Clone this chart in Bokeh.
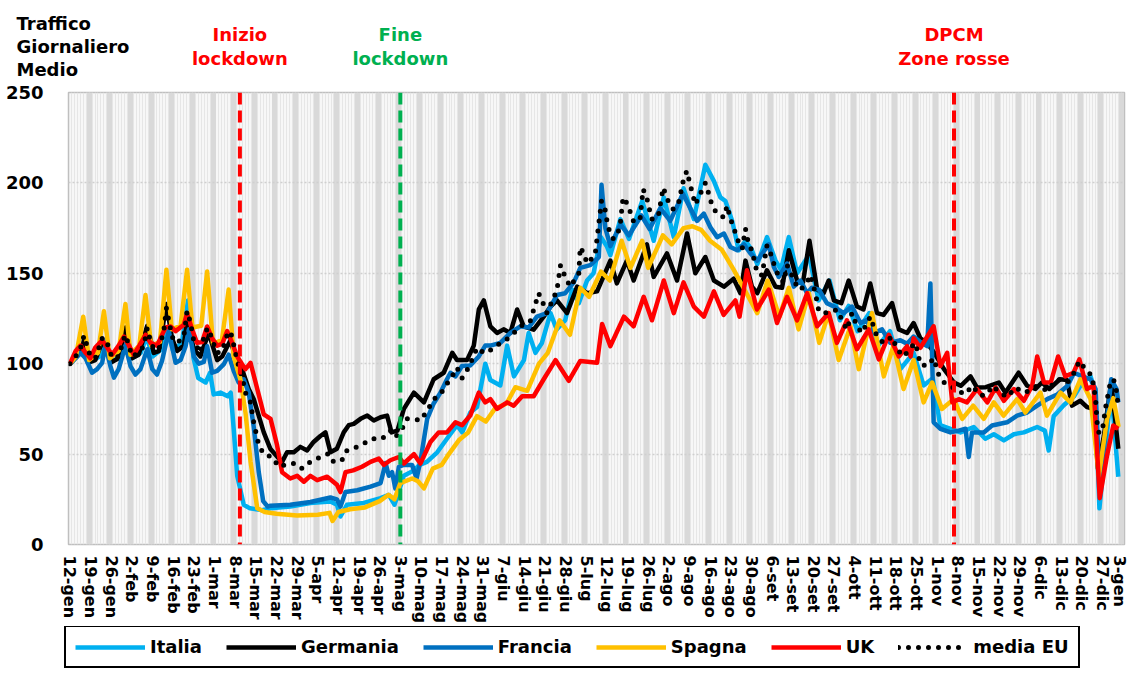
import math
from bokeh.plotting import figure
from bokeh.layouts import column
from bokeh.models import Range1d, FixedTicker, Span, Legend, LegendItem
from bokeh.core.properties import value
from bokeh.embed import file_html
from bokeh.resources import INLINE

# ---------------- data (x = days since 12-gen-2020, y = index, 12-gen = 100) -------------
TICK_LABELS = ["12-gen", "19-gen", "26-gen", "2-feb", "9-feb", "16-feb", "23-feb", "1-mar",
               "8-mar", "15-mar", "22-mar", "29-mar", "5-apr", "12-apr", "19-apr", "26-apr",
               "3-mag", "10-mag", "17-mag", "24-mag", "31-mag", "7-giu", "14-giu", "21-giu",
               "28-giu", "5-lug", "12-lug", "19-lug", "26-lug", "2-ago", "9-ago", "16-ago",
               "23-ago", "30-ago", "6-set", "13-set", "20-set", "27-set", "4-ott", "11-ott",
               "18-ott", "25-ott", "1-nov", "8-nov", "15-nov", "22-nov", "29-nov", "6-dic",
               "13-dic", "20-dic", "27-dic", "3-gen"]

ITALIA = [(0,100),(3,105),(5,111),(7,101),(10,104),(12,113),(14,101),(17,104),(19,113),(21,103),
          (24,106),(26,115),(28,104),(31,108),(33,118),(35,107),(38,112),(40,135),(41.9,103),(43.5,92),
          (46,89.6),(47.5,95),(48.7,83),(51,84),(53.5,82),(54.5,84),(55.5,64),(56.7,38),(58.9,22),(61,20),
          (65,19),(68,20),(74.7,21),(81.5,23),(88.3,23.8),(90.5,22),(91.7,15.5),(93.9,22),(99.6,23),
          (105.3,25.6),(108.1,27.4),(110,22),(113.2,38),(116.6,41),(118.5,44),(121,45.7),(124.5,51),
          (127.8,58.5),(131.2,66),(133,62),(135.7,73),(138,76),(140.8,100),(142.5,91),(145.9,88),
          (148.2,110),(150.5,93),(153.9,102),(155.5,117),(157.8,106),(160,111.5),(162.9,128),(165,119),
          (167.9,124),(170.2,141),(172.5,133.5),(175.3,146),(177.5,150),(180,170),(182,165),(183.2,160),
          (186.6,180),(189.5,169),(194,190),(197.9,168),(201.3,192),(204.7,170),(208,197),(211.5,180),
          (215.4,210),(218.3,201),(220.5,192),(222.2,190),(224.5,179),(226.7,162.7),(229,168),
          (231.2,162.7),(233,155),(236.3,170),(239.2,157),(241,152),(243.7,170),(246.5,150),(250.5,160),
          (253.8,135),(257.5,146),(261,124),(264,132),(267,118),(271,128),(274,110),(278,118),(281.5,97),
          (286,106),(289.4,88),(292.5,92),(295,66),(298.5,64),(301.9,62),(306.4,65),(310.3,58.5),
          (313.2,61),(316.6,57.6),(320,61),(323.4,62),(327.9,65),(330.5,63),(331.8,52),(333.5,71),
          (336.9,77),(340.4,82),(343.2,89.6),(346,93),(347.5,85),(349,20),(353,85),(355.4,37.5)]

GERMANIA = [(0,100),(2.4,104),(4.1,108),(4.7,113),(6.9,101),(8.6,102),(10.9,112),(13.2,106),(14.3,101),
            (16.5,103),(18.8,120),(21,103),(23.3,105),(26.2,121),(28.4,106),(30.1,107),(32.7,133),
            (34.6,114),(36.3,107),(38.6,110),(39.7,124),(42,108),(44.2,104),(47,117),(49.9,102),
            (51.6,104),(54.4,113),(56.7,100),(57.8,99.6),(60.6,86),(62.3,80.4),(65.7,62),(67.9,53),
            (70.8,47.5),(71.9,45.7),(73.6,51),(75.9,51),(78.1,54),(80.4,52),(82.6,56.7),(84.9,60),
            (86.6,62),(88.3,51),(90.5,53),(92.8,62),(94.5,66),(96.2,66.7),(98.5,69.5),(100.8,71.3),
            (103,68.6),(105.3,70.4),(107.5,71.3),(109,62),(111,63),(113.2,75),(116.6,84),(120,78.6),
            (123.3,91.4),(126.7,95),(129.6,106),(131.2,102),(134.6,102),(136.9,110),(138.6,130),
            (140.3,135),(142.5,120.7),(144.8,117),(147,119),(149.3,117),(151.6,130),(153.8,120.7),
            (157.2,118.8),(160.6,126),(162.9,131.6),(165.1,135),(168.5,128),(171.9,142.6),(175.3,139),
            (178.7,140),(183.2,157),(185.4,144.4),(188.8,157),(191.1,146),(195.6,166),(197.9,148),
            (202.4,161),(205.8,146),(209.2,172),(212,150),(215.4,159),(218.3,146),(221.7,142.6),
            (225,147),(227.3,139),(229,157),(231.2,142.6),(233,139),(236.3,151.7),(239.2,142.6),
            (241.4,142),(243.7,162.7),(246.5,146),(248.5,145),(250.7,168),(253.3,141),(255.5,139),
            (257.2,146),(259,135),(261.5,133.5),(264,146),(266.8,131.6),(269,130),(271.3,144.4),
            (273.6,128),(275.8,127),(278.7,133.5),(281,119),(283.8,117),(286,122.5),(288.3,114),
            (290.6,111.5),(293,106),(296.3,97),(299.7,89.6),(302,87.8),(305.3,93),(307.5,86.8),
            (310.5,87),(314.9,89.6),(317.1,84),(321.6,95),(324.5,87.8),(327.3,86),(329.5,89.6),
            (332,86),(335.6,91.4),(338,91),(339.7,76.8),(342.5,79.5),(344.8,76),(347,75),(348.5,42),
            (350.5,60),(353,90),(355.4,53)]

FRANCIA = [(0,100),(3.6,106),(5.3,103),(7.5,95),(9.2,97),(10.9,100.5),(12,110),(13.7,98.7),(14.9,92.3),
           (16.5,97),(18.8,110),(20.5,98.7),(22.2,94),(23.9,97),(26.2,108),(27.9,97),(29.5,94),
           (31.2,101.5),(33.5,118),(35.8,100.5),(37.5,102),(39.2,109.7),(40.3,119),(42,104),(43.7,100),
           (45.4,101),(46.5,109.7),(48.2,95),(49.9,96),(52.1,99.6),(53.8,105),(55.5,96),(57.2,89.6),
           (58.9,91.4),(60.6,84),(62.3,65),(64,40),(65.5,24),(67,21),(68,21.5),(74.7,22),(81.5,23.5),
           (88.3,26),(90.5,25),(91.7,21),(93.4,29),(97.4,30),(101.9,32),(105.3,34),(107,45),(108.1,38),
           (109.2,40),(110.3,31),(111.5,43),(113.2,44),(116,44),(117.5,36.5),(118.8,46),(121.1,69.5),
           (123.3,78),(125.6,84),(127.8,91.4),(129,95),(130.7,93),(132.9,98.7),(135.7,99),(138.6,104),
           (140.8,110),(142.5,110),(145.9,111.5),(149.3,117),(152.7,120.7),(155.5,120),(158.3,126),
           (161.7,128),(165.1,138),(167.9,139),(170.8,145),(173,153),(176.4,154.5),(179.3,159),
           (180.2,199),(181.5,175),(183.2,165),(186.6,177),(189.5,171),(193.7,182),(196.5,174.5),
           (200.1,186),(203.5,179),(207.8,194),(210.3,186),(212.6,179),(214.9,183),(217.1,175.5),
           (219.4,170),(221.7,172),(223.9,164.5),(226.2,162.7),(228.5,166),(230.7,161),(233,157),
           (236.9,166),(238.6,153.6),(240.3,148),(243.1,155.4),(245.4,142.6),(247.6,146),(249.9,139),
           (251.5,142),(253.9,141),(256.6,133.5),(259,131.6),(262.3,128),(265.1,131.6),(268,122.5),
           (270,124),(272.5,117),(275.3,119),(278.1,111.5),(281.5,113),(283.8,111),(286,115),
           (288.3,112),(290.6,109.7),(291.7,144.4),(292.8,67.6),(295.1,64),(298.5,62),(301.3,63),
           (303.6,64),(304.7,48.4),(305.8,62),(309.8,62),(312.6,65.8),(317.7,67.6),(321.1,71.3),
           (324.5,73),(327.9,76.8),(331.3,80.4),(334.7,83),(338.2,87.8),(340.4,95),(343.2,93),
           (346,91.4),(347.7,86),(349.1,31),(353,91.4),(354.8,86),(355.4,78.6)]

SPAGNA = [(0,100),(2,104),(4.5,126),(6.5,102),(9.5,106),(11.5,129),(13.5,103),(16.5,107),(18.8,133),
          (20.5,105),(23.5,110),(25.6,138),(27.5,110),(30.5,112),(32.7,152),(34.5,119),(37.5,121),
          (39.7,152),(41.5,120),(44.5,121),(46.5,151),(48.5,111),(51.5,113),(53.8,141),(55.5,104),
          (57.8,91),(59.5,73),(61.2,46),(63.5,20),(66,18),(70,17),(77,16),(84,16.5),(88,17.5),(89,13),
          (91,18),(95,19.5),(100,20.5),(105,24),(108,27.5),(110,25),(112,34),(116,36.5),(118,35),
          (120,31),(123,42),(126,44),(128,49),(132,58),(135,62),(138,71),(141,68),(144,75),(148,78),
          (151,87),(155,85),(159,100),(162,106),(166,124),(169.5,116),(173,142),(176,137),(180,151),
          (183,146),(187,168),(190,153),(194,168),(196,153),(201,171),(204,166),(208,175),(211,176),
          (214,174),(217,168),(221,163),(225,152),(228,143),(231,134),(233,128),(236.5,146),
          (240.5,126),(243.7,142),(247,119),(250.5,139),(254,111.5),(257.2,128),(260.6,102),
          (264.6,120.6),(267.4,97),(271.9,128),(275.9,93),(279.2,110),(282.6,86),(286,102),
          (289.4,78.6),(292.3,89.6),(295.6,75),(299.6,80.4),(302.5,69.5),(306.2,76.8),(309.8,69.5),
          (313.2,78.6),(316.5,71.3),(321.1,80.4),(323.9,73),(329,84),(331.2,71.3),(335.8,84),
          (339.2,78.6),(342.6,91.4),(346,80.4),(348.8,38),(351.6,69.5),(353.7,81),(355.5,65)]

UK = [(0,100),(1.9,107),(3.6,110),(5.3,106),(6.9,103),(8.6,109),(10.9,113),(12.6,109),(14.3,105),
      (16.5,110),(18.3,115),(20,110),(21.6,105),(23.5,110),(25.6,116),(27.3,111.5),(29.5,110),
      (32.4,120),(34.1,120.6),(35.8,118),(38.6,121.5),(39.7,128),(41.4,119),(43.1,111.5),(44.8,112),
      (46.5,120.6),(48.2,114),(49.9,110),(51.6,111),(53.3,118),(55,111.5),(56.7,104),(58.4,99.6),
      (59.5,97),(61.2,100.5),(63.5,86),(65.7,72),(68,69.5),(70.2,55),(71.9,40),(74.7,36.5),(77,38),
      (79.3,34.7),(81.5,38),(83.8,35.6),(87.2,37.5),(90.5,33),(91.7,29),(93.4,40),(96,41),(99,43),
      (101.9,45.7),(104.7,47.5),(106.4,44),(108.6,46.6),(111.5,48.4),(113.2,44.8),(116.6,50),
      (118.8,44.8),(122.2,56.7),(125,62),(127.8,62),(130.7,67.6),(132.9,66),(135.7,71.3),(138.6,84),
      (140.8,78.6),(142.5,80.4),(144.8,75),(148.2,78.6),(150.4,76.8),(153.3,82),(157.2,82),
      (160.6,91.4),(164.6,102),(169.1,90.5),(173,101.5),(178.7,100.5),(180.4,122),(183.2,109.7),
      (187.8,126),(191.1,120.7),(194.5,137),(197.3,124),(201.3,146),(204.7,128),(208,145),
      (211.5,131.6),(214.9,126),(218.3,140),(221.6,127),(225.6,135),(227,126),(229.5,151.7),
      (232.9,130),(236.9,141),(239.7,122.5),(243.1,137),(246.5,124),(249.9,139),(253.3,120.7),
      (257.2,128),(260,111.5),(263.4,124),(266.8,108),(270.8,119),(274.2,102.4),(277.6,116),
      (281,104),(283.8,109.7),(285,104),(286,114),(288.3,108.8),(292.8,120.7),(295.1,98.7),
      (297.4,106),(299.1,78.6),(301.3,80.4),(304.1,78.6),(307.5,86),(311,78.6),(313.8,86.8),
      (316.6,79.5),(320,86),(323.4,79.5),(326.2,87.8),(327.9,104),(330.2,89.6),(332.5,89.6),
      (335,104),(337.4,93),(340.2,95),(342.2,102.4),(344.8,86),(347,87.8),(349.1,25.6),(351.6,49.4),
      (353.7,65.8),(355.4,64)]

MEDIA_EU = [(0,100),(2.4,105),(4.1,110.6),(4.7,115.5),(5.8,110),(6.9,104),(8.6,103),(10.9,114),(12,114),
            (13.2,108.8),(14.3,103),(16.5,104),(18.3,114),(18.8,116),(19.9,110.6),(21,104),(23.3,106),
            (25,109.7),(26.2,119.7),(26.7,116),(28.4,107.9),(30.1,108),(31.8,118),(32.7,130.7),
            (33.5,124),(34.6,115),(36.3,111.5),(38.6,115),(39.7,129),(40.8,123),(42,112.4),(44.2,106),
            (45.9,118),(47,119.7),(48.2,113),(49.9,106),(51.6,107),(53.3,116),(54.4,118),(55.5,110.6),
            (56.7,101.5),(58.4,92.3),(59.5,84),(61.2,78.6),(62.3,67.6),(64,55),(65.7,50),(68.5,48.4),
            (70.8,43),(74.2,44.8),(76.5,44.8),(78.7,42),(81.5,45.7),(84.9,48.4),(87.7,50.3),(89.4,45.7),
            (92.2,46.6),(93.9,52),(97.4,54),(99.6,55.8),(102.4,58.5),(105.8,58.5),(108.6,63),
            (110.3,59.4),(112.6,64),(114.3,69.5),(116.6,69.5),(118.8,68.6),(121.1,74),(123.3,80.4),
            (125.6,83),(127.3,87.8),(129,91.4),(131.2,97.8),(132.9,92),(135.1,97.8),(138,108.8),
            (140.3,106),(141.4,106),(144.2,109.7),(147.6,113),(149.3,115),(152.7,120.7),(156,123.4),
            (158.9,139),(160,135),(161.7,128),(165.1,140.8),(166.3,154.5),(167.9,148),(169.6,142.6),
            (172.5,150),(173,164.5),(174.2,160.9),(175.3,155.4),(178,160),(180.2,190),(181.3,186.5),
            (182.4,175.5),(184.2,169),(186.4,174.6),(187.5,192),(188.7,189),(189.8,184.6),(190.9,179),
            (193.2,179),(194.3,196.5),(195.5,192),(197.2,180),(199.4,181),(201.1,197.4),(202.8,190),
            (204.5,185.5),(206.2,188),(207.9,201),(209.1,206.6),(210.8,195.6),(212,188),(215.4,200),
            (216.6,193.8),(217.7,187.4),(219.4,182.8),(221.7,181),(222.8,187.4),(223.9,180),(225,175.5),
            (226.2,169),(227.9,163.6),(229,174.6),(230.1,166),(231.2,162.7),(233,150),(234.6,149),
            (236.3,165.4),(237.5,161),(238.6,155.4),(240.3,148),(242,145),(243.1,154.5),(244.2,151),
            (245.9,144.4),(247.6,140.8),(249.9,145),(251,149),(252.7,139),(253.9,128.9),(255.5,128),
            (257.8,128.5),(260,129.8),(261.7,124.3),(263.4,118.8),(265.1,128),(266.8,120.7),
            (268.5,117),(271.3,126),(273.6,115),(275.8,111.5),(278.7,115),(280.4,108),(282.6,104),
            (285.5,109.7),(286.6,111.5),(288.3,99.6),(290.6,98.7),(292.8,103),(294.5,94),(296.3,89.6),
            (298.5,87.8),(300.8,85),(303.6,83.2),(305.8,87.8),(308.7,82.3),(311,83),(312.6,87.8),
            (315.5,84),(317.7,81.4),(320.5,86.8),(323.4,84),(325,85),(327.9,87.8),(331.3,85),
            (334.7,91.4),(338.2,89.6),(340.4,95),(342.2,101.5),(344.3,96.9),(346.5,93.2),(347.7,80.4),
            (348.2,67.6),(348.8,62),(349.9,62),(351,75),(352.7,89.6),(353.8,91.4),(354.9,84),(355.4,75)]

SERIES_NAMES = ["Italia", "Germania", "Francia", "Spagna", "UK", "media EU"]
SERIES_DATA = [ITALIA, GERMANIA, FRANCIA, SPAGNA, UK, MEDIA_EU]
SERIES_COLORS = ["#00B0F0", "#000000", "#0070C0", "#FFC000", "#FF0000", "#000000"]

EVENT_DAYS = [57.6, 112.0, 299.7]
EVENT_TEXT = [["Inizio", "lockdown"], ["Fine", "lockdown"], ["DPCM", "Zone rosse"]]
EVENT_COLORS = ["#FF0000", "#00B050", "#FF0000"]

TITLE_LINES = ["Traffico", "Giornaliero", "Medio"]

FONT = "DejaVu Sans"

# ---------------- geometry -------------
W = 1128
FRAME_L, FRAME_R = 68, 4                 # borders of the main chart
X_LO, X_HI = -0.5, 357.5
PX_PER_DAY = (W - FRAME_L - FRAME_R) / (X_HI - X_LO)
HDR_H, MAIN_TOP, MAIN_H, FOOT_H = 81, 11, 545, 46


def no_align(fig):
    try:
        fig.frame_align = False
    except AttributeError:
        pass


# ---------------- header (title + event captions) -------------
hdr = figure(width=W, height=HDR_H, output_backend="svg", toolbar_location=None,
             x_range=Range1d(X_LO - FRAME_L / PX_PER_DAY, X_LO + (W - FRAME_L) / PX_PER_DAY),
             y_range=Range1d(0, HDR_H), min_border=0, x_axis_location=None, y_axis_location=None,
             outline_line_color=None, background_fill_color="white", border_fill_color="white")
hdr.grid.visible = False
no_align(hdr)

title_x = X_LO + (16 - FRAME_L) / PX_PER_DAY
hdr.text(x=[title_x] * 3, y=[HDR_H - 23, HDR_H - 46, HDR_H - 69], text=TITLE_LINES,
         text_color="black", text_font=value(FONT), text_font_style="bold",
         text_font_size="18px", text_align="left", text_baseline="middle")
ev_x, ev_y, ev_t, ev_c = [], [], [], []
for day, txt, col in zip(EVENT_DAYS, EVENT_TEXT, EVENT_COLORS):
    for i, t in enumerate(txt):
        ev_x.append(day); ev_y.append(HDR_H - 34 - 24 * i); ev_t.append(t); ev_c.append(col)
hdr.text(x=ev_x, y=ev_y, text=ev_t, text_color=ev_c, text_font=value(FONT),
         text_font_style="bold", text_font_size="18px", text_align="center",
         text_baseline="middle")

# ---------------- main chart -------------
p = figure(width=W, height=MAIN_H, x_range=Range1d(X_LO, X_HI), y_range=Range1d(0, 250),
           output_backend="svg", toolbar_location=None,
           min_border_left=FRAME_L, min_border_right=FRAME_R, min_border_top=MAIN_TOP,
           min_border_bottom=MAIN_H - MAIN_TOP - 458,
           background_fill_color="#F7F7F7", border_fill_color="white",
           outline_line_color="#BFBFBF", outline_line_width=1.5)

week_ticks = [7 * k for k in range(len(TICK_LABELS))]
p.xaxis.ticker = FixedTicker(ticks=week_ticks)
p.xaxis.major_label_overrides = {t: lab for t, lab in zip(week_ticks, TICK_LABELS)}
p.xaxis.major_label_orientation = "vertical"
p.xaxis.major_label_text_font = FONT
p.xaxis.major_label_text_font_style = "bold"
p.xaxis.major_label_text_font_size = "16px"
p.xaxis.major_label_text_color = "black"
p.xaxis.major_label_standoff = 5
p.xaxis.major_tick_line_color = None
p.xaxis.minor_tick_line_color = None
p.xaxis.axis_line_color = None

p.yaxis.ticker = FixedTicker(ticks=[0, 50, 100, 150, 200, 250])
p.yaxis.major_label_text_font = FONT
p.yaxis.major_label_text_font_style = "bold"
p.yaxis.major_label_text_font_size = "18px"
p.yaxis.major_label_text_color = "black"
p.yaxis.major_label_standoff = 19
p.yaxis.major_tick_line_color = None
p.yaxis.minor_tick_line_color = None
p.yaxis.axis_line_color = None

p.xgrid.ticker = FixedTicker(ticks=[7 * k - 0.5 for k in range(1, 52)],
                             minor_ticks=[d - 0.5 for d in range(1, 358)])
p.xgrid.grid_line_color = "#D9D9D9"
p.xgrid.grid_line_width = 5
p.xgrid.minor_grid_line_color = "#E6E6E6"
p.xgrid.minor_grid_line_width = 1
p.ygrid.ticker = FixedTicker(ticks=[50, 100, 150, 200])
p.ygrid.grid_line_color = "#CFCFCF"
p.ygrid.grid_line_dash = "2 2"
p.ygrid.grid_line_width = 1.5


def line_style(name, color):
    if name == "media EU":
        return dict(line_color=color, line_width=5, line_dash="0 10", line_cap="round",
                    line_join="round")
    return dict(line_color=color, line_width=4.5, line_join="round")


for name, data, color in zip(SERIES_NAMES, SERIES_DATA, SERIES_COLORS):
    p.line([d for d, _ in data], [v for _, v in data], **line_style(name, color))

for day, col in zip(EVENT_DAYS, EVENT_COLORS):
    p.add_layout(Span(location=day, dimension="height", line_color=col, line_width=4,
                      line_dash="12 6"))

# ---------------- footer legend -------------
foot = figure(width=W, height=FOOT_H, output_backend="svg", toolbar_location=None,
              x_range=Range1d(0, 1), y_range=Range1d(0, 1), min_border=0,
              x_axis_location=None, y_axis_location=None, outline_line_color=None,
              background_fill_color="white", border_fill_color="white")
foot.grid.visible = False
no_align(foot)
items = []
for name, color in zip(SERIES_NAMES, SERIES_COLORS):
    # legend sample only: the line lies outside the visible range
    r = foot.line([-3, -2], [-3, -3], **line_style(name, color))
    items.append(LegendItem(label=name, renderers=[r]))
legend = Legend(items=items, orientation="horizontal", location=(64, 4),
                label_text_font=FONT, label_text_font_style="bold", label_text_font_size="18px",
                label_text_color="black", glyph_width=70, glyph_height=20, label_standoff=5,
                spacing=24, padding=9, margin=0, border_line_color="black",
                border_line_width=2, border_line_alpha=1.0,
                background_fill_color="white", background_fill_alpha=1)
foot.add_layout(legend, "center")

layout = column(hdr, p, foot, spacing=0)
open("out.html", "w").write(file_html(layout, INLINE))
